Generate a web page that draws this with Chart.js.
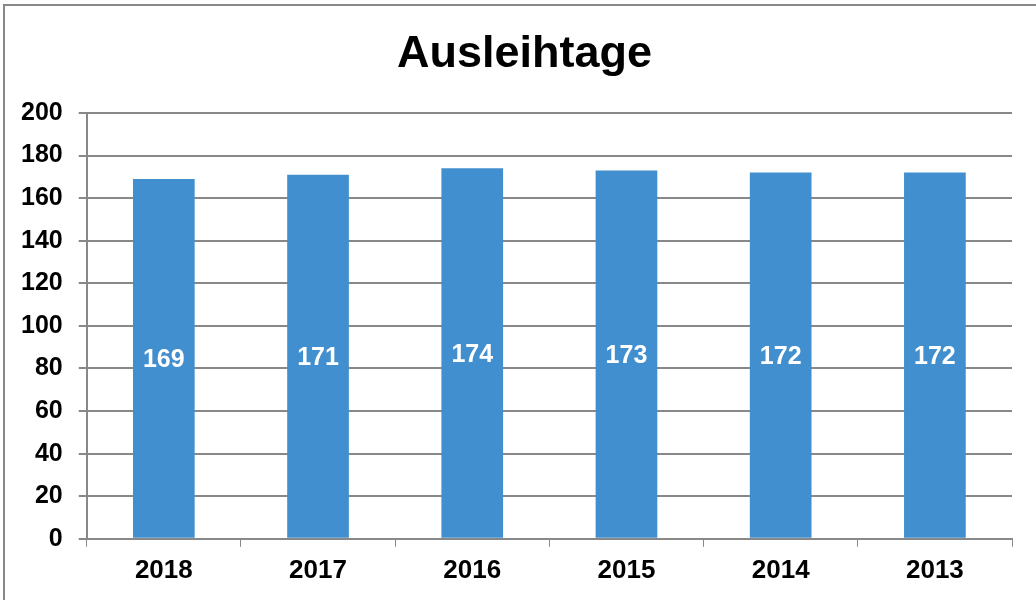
<!DOCTYPE html>
<html>
<head>
<meta charset="utf-8">
<script src="https://cdn.jsdelivr.net/npm/chart.js@4/dist/chart.umd.min.js"></script>
<style>
	html, body { margin:0; padding:0; background:#fff; }
	#wrap { position:relative; width:1036px; height:600px; overflow:hidden; }
	#frame { position:absolute; left:3px; top:4px; width:1100px; height:700px; border:1px solid #888; border-width:2px 0 0 2px; box-sizing:border-box; }
	canvas { position:absolute; left:0; top:0; }
</style>
</head>
<body>
<div id="wrap">
	<div id="frame"></div>
	<canvas id="myChart" width="1036" height="600"></canvas>
</div>
<script>
const years = ['2018', '2017', '2016', '2015', '2014', '2013'];
const loanDays = [169, 171, 174, 173, 172, 172];
const yTicks = [0, 20, 40, 60, 80, 100, 120, 140, 160, 180, 200];

const font = '"Liberation Sans", Arial, sans-serif';

// value labels in the middle of each bar
const barLabels = {
	id: 'barLabels',
	afterLayout(chart) {
		// title sits a bit right of the padded box centre
		if (chart.titleBlock) {
			chart.titleBlock.left += 16;
			chart.titleBlock.right += 16;
		}
	},
	afterDatasetsDraw(chart) {
		const ctx = chart.ctx;
		const meta = chart.getDatasetMeta(0);
		ctx.save();
		ctx.fillStyle = '#fff';
		ctx.font = 'bold 25px ' + font;
		ctx.textAlign = 'center';
		ctx.textBaseline = 'middle';
		meta.data.forEach((bar, i) => {
			ctx.fillText(loanDays[i], bar.x, (bar.y + bar.base) / 2 + 2);
		});
		ctx.restore();
	}
};

const ctx = document.getElementById('myChart');

new Chart(ctx, {
	type: 'bar',
	data: {
		labels: years,
		datasets: [{
			data: loanDays,
			backgroundColor: '#418fce',
			borderWidth: 0,
			categoryPercentage: 1,
			barPercentage: 0.4
		}]
	},
	options: {
		responsive: false,
		animation: false,
		layout: { padding: { left: 5, right: 24, top: 8, bottom: 6 } },
		plugins: {
			legend: { display: false },
			tooltip: { enabled: false },
			title: {
				display: true,
				text: 'Ausleihtage',
				color: '#000',
				font: { family: font, size: 45, weight: 'bold' },
				padding: { top: 20, bottom: 31 }
			}
		},
		scales: {
			x: {
				grid: { drawOnChartArea: false, color: '#888', tickLength: 8, offset: true },
				border: { color: '#888', width: 2 },
				ticks: { color: '#000', font: { family: font, size: 26, weight: 'bold' }, padding: 8 }
			},
			y: {
				min: 0,
				max: 200,
				afterBuildTicks: axis => { axis.ticks = yTicks.map(v => ({ value: v })); },
				grid: { color: '#888', lineWidth: 2, tickLength: 8 },
				border: { color: '#888', width: 2 },
				ticks: { color: '#000', font: { family: font, size: 25, weight: 'bold' }, padding: 16 }
			}
		}
	},
	plugins: [barLabels]
});
</script>
</body>
</html>
